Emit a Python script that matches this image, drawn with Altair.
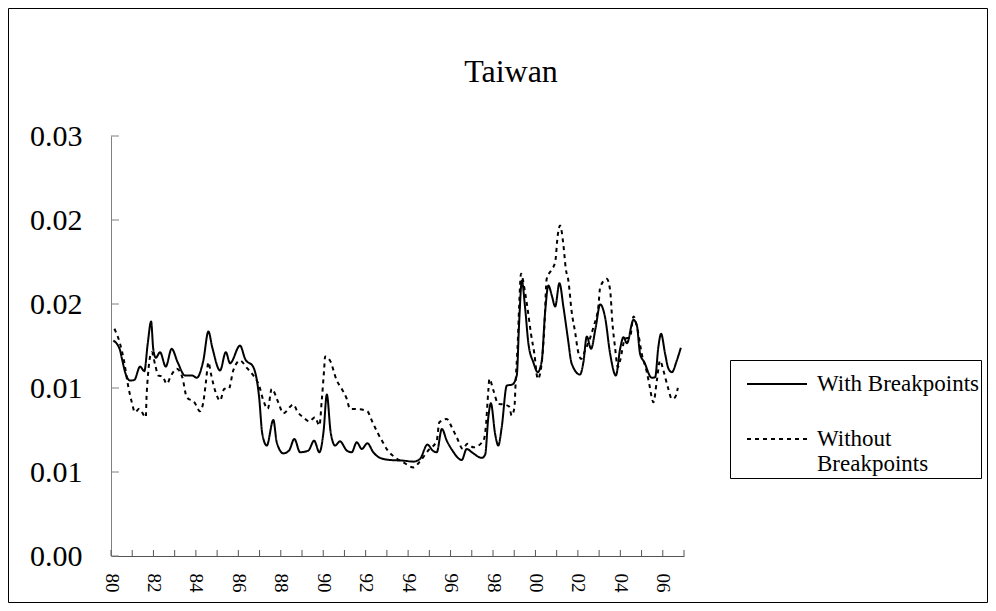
import altair as alt
import pandas as pd

# ---- data ----
series_names = ["With Breakpoints", "Without Breakpoints"]

with_years = [
    1980.11, 1980.42, 1980.50, 1980.69, 1980.90, 1981.10, 1981.37, 1981.57, 1981.73, 1981.89,
    1981.99, 1982.11, 1982.31, 1982.58, 1982.86, 1983.14, 1983.49, 1983.83, 1984.04, 1984.35,
    1984.59, 1984.77, 1985.14, 1985.41, 1985.61, 1986.08, 1986.32, 1986.71, 1986.98, 1987.13,
    1987.34, 1987.65, 1987.81, 1988.12, 1988.39, 1988.64, 1988.91, 1989.30, 1989.57, 1989.82,
    1990.02, 1990.17, 1990.35, 1990.56, 1990.79, 1991.11, 1991.34, 1991.58, 1991.82, 1992.08,
    1992.36, 1992.68, 1993.15, 1993.78, 1994.25, 1994.56, 1994.91, 1995.16, 1995.35, 1995.59,
    1995.82, 1996.06, 1996.53, 1996.76, 1997.00, 1997.47, 1997.63, 1997.78, 1997.90, 1998.10,
    1998.25, 1998.41, 1998.65, 1998.91, 1999.12, 1999.23, 1999.36, 1999.51, 1999.67, 1999.90,
    2000.11, 2000.30, 2000.45, 2000.61, 2000.77, 2000.93, 2001.13, 2001.32, 2001.52, 2001.71,
    2002.10, 2002.26, 2002.42, 2002.62, 2002.84, 2003.05, 2003.28, 2003.52, 2003.79, 2003.99,
    2004.15, 2004.31, 2004.62, 2004.78, 2004.93, 2005.13, 2005.48, 2005.64, 2005.79, 2005.92,
    2006.11, 2006.27, 2006.43, 2006.66, 2006.85,
]
with_values = [
    0.01539, 0.01473, 0.01420, 0.01301, 0.01253, 0.01258, 0.01353, 0.01320, 0.01516, 0.01675,
    0.01480, 0.01416, 0.01456, 0.01353, 0.01480, 0.01384, 0.01289, 0.01289, 0.01273, 0.01396,
    0.01604, 0.01491, 0.01325, 0.01456, 0.01377, 0.01503, 0.01408, 0.01348, 0.01134, 0.00872,
    0.00789, 0.00972, 0.00812, 0.00733, 0.00753, 0.00836, 0.00741, 0.00753, 0.00824, 0.00741,
    0.00896, 0.01153, 0.00884, 0.00789, 0.00819, 0.00753, 0.00741, 0.00812, 0.00765, 0.00805,
    0.00741, 0.00701, 0.00686, 0.00681, 0.00674, 0.00693, 0.00796, 0.00753, 0.00741, 0.00908,
    0.00824, 0.00760, 0.00686, 0.00765, 0.00741, 0.00701, 0.00724, 0.00991, 0.01091, 0.00872,
    0.00789, 0.00919, 0.01217, 0.01225, 0.01289, 0.01659, 0.01968, 0.01777, 0.01516, 0.01384,
    0.01313, 0.01396, 0.01730, 0.01932, 0.01861, 0.01782, 0.01949, 0.01777, 0.01563, 0.01373,
    0.01296, 0.01384, 0.01568, 0.01480, 0.01634, 0.01797, 0.01706, 0.01444, 0.01289, 0.01480,
    0.01563, 0.01520, 0.01687, 0.01646, 0.01444, 0.01384, 0.01273, 0.01277, 0.01491, 0.01587,
    0.01444, 0.01337, 0.01313, 0.01396, 0.01487,
]

without_years = [
    1980.16, 1980.42, 1980.61, 1980.79, 1980.98, 1981.13, 1981.33, 1981.64, 1981.68, 1981.92,
    1982.07, 1982.23, 1982.42, 1982.63, 1982.83, 1983.10, 1983.36, 1983.57, 1983.93, 1984.19,
    1984.35, 1984.48, 1984.59, 1984.71, 1984.93, 1985.14, 1985.34, 1985.55, 1985.76, 1986.08,
    1986.40, 1986.71, 1986.98, 1987.18, 1987.39, 1987.57, 1987.88, 1988.12, 1988.59, 1988.80,
    1989.06, 1989.35, 1989.61, 1989.82, 1989.93, 1990.04, 1990.09, 1990.32, 1990.64, 1990.87,
    1991.11, 1991.26, 1991.70, 1992.08, 1992.29, 1992.55, 1992.81, 1993.02, 1993.38, 1993.78,
    1994.25, 1994.56, 1994.94, 1995.35, 1995.47, 1995.82, 1996.06, 1996.29, 1996.58, 1996.79,
    1997.08, 1997.55, 1997.66, 1997.78, 1997.83, 1998.02, 1998.25, 1998.52, 1998.76, 1998.88,
    1999.01, 1999.07, 1999.17, 1999.23, 1999.32, 1999.51, 1999.64, 1999.79, 1999.95, 2000.11,
    2000.27, 2000.42, 2000.53, 2000.74, 2000.93, 2001.05, 2001.16, 2001.32, 2001.43, 2001.55,
    2001.71, 2001.87, 2002.00, 2002.15, 2002.34, 2002.73, 2002.97, 2003.05, 2003.36, 2003.52,
    2003.63, 2003.75, 2003.88, 2003.99, 2004.22, 2004.46, 2004.62, 2004.82, 2005.01, 2005.25,
    2005.36, 2005.56, 2005.72, 2005.87, 2006.03, 2006.24, 2006.43, 2006.58, 2006.71,
]
without_values = [
    0.01623, 0.01520, 0.01396, 0.01230, 0.01098, 0.01027, 0.01051, 0.00991, 0.01158, 0.01456,
    0.01373, 0.01289, 0.01284, 0.01230, 0.01289, 0.01337, 0.01277, 0.01134, 0.01098, 0.01034,
    0.01098, 0.01253, 0.01384, 0.01301, 0.01170, 0.01110, 0.01194, 0.01194, 0.01325, 0.01396,
    0.01344, 0.01289, 0.01217, 0.01110, 0.01051, 0.01194, 0.01098, 0.01019, 0.01082, 0.01027,
    0.00991, 0.00962, 0.00991, 0.00932, 0.01110, 0.01325, 0.01425, 0.01396, 0.01253, 0.01194,
    0.01122, 0.01051, 0.01048, 0.01034, 0.00967, 0.00884, 0.00812, 0.00758, 0.00705, 0.00669,
    0.00633, 0.00676, 0.00753, 0.00824, 0.00955, 0.00979, 0.00919, 0.00848, 0.00765, 0.00801,
    0.00776, 0.00824, 0.00919, 0.01182, 0.01265, 0.01182, 0.01087, 0.01082, 0.01067, 0.01003,
    0.01062, 0.01253, 0.01539, 0.01777, 0.02016, 0.01884, 0.01754, 0.01587, 0.01444, 0.01265,
    0.01348, 0.01634, 0.01980, 0.02040, 0.02099, 0.02290, 0.02361, 0.02218, 0.02052, 0.01968,
    0.01742, 0.01599, 0.01468, 0.01408, 0.01468, 0.01634, 0.01789, 0.01920, 0.01980, 0.01897,
    0.01659, 0.01491, 0.01348, 0.01396, 0.01551, 0.01563, 0.01711, 0.01611, 0.01444, 0.01313,
    0.01230, 0.01098, 0.01253, 0.01396, 0.01325, 0.01205, 0.01122, 0.01134, 0.01201,
]

y_tick_values = [0.0, 0.006, 0.012, 0.018, 0.024, 0.030]
x_tick_years = list(range(1980, 2008))
x_label_years = list(range(1980, 2007, 2))
title_text = "Taiwan"

# ---- tables ----
df = pd.concat([
    pd.DataFrame({"year": with_years, "value": with_values, "series": series_names[0]}),
    pd.DataFrame({"year": without_years, "value": without_values, "series": series_names[1]}),
], ignore_index=True)
ytick_df = pd.DataFrame({"value": y_tick_values})
xtick_df = pd.DataFrame({"year": x_tick_years})

W, H = 573, 420
FONT = "Liberation Serif"
AXIS_GREY = "#808080"

x_scale = alt.Scale(domain=[1980, 2007], nice=False, zero=False)
y_scale = alt.Scale(domain=[0, 0.03], nice=False, zero=True)

x_axis = alt.Axis(
    values=x_label_years, title=None, grid=False, ticks=False, tickSize=0,
    labelExpr="format(datum.value % 100, '02d')", labelAngle=90,
    labelFont=FONT, labelFontSize=19, labelColor="black", labelPadding=17,
    domainColor="#555555", domainWidth=1, labelOverlap=False, labelFlush=False)
y_axis = alt.Axis(
    values=y_tick_values, format=".2f", title=None, grid=False, ticks=False, tickSize=0,
    labelFont=FONT, labelFontSize=30, labelColor="black", labelPadding=29,
    domainColor=AXIS_GREY, domainWidth=1, labelOverlap=False, labelFlush=False)

X = alt.X("year:Q", scale=x_scale, axis=x_axis)
Y = alt.Y("value:Q", scale=y_scale, axis=y_axis)

lines = alt.Chart(df).mark_line(color="black", strokeWidth=2, interpolate="monotone").encode(
    x=X, y=Y,
    strokeDash=alt.StrokeDash("series:N", scale=alt.Scale(domain=series_names, range=[[1, 0], [4, 4]]),
        legend=alt.Legend(
            orient="none", legendX=619, legendY=224, title=None, direction="vertical",
            strokeColor="black", fillColor="white", padding=2,
            labelFont=FONT, labelFontSize=23, labelColor="black", labelLimit=0,
            labelOffset=9, rowPadding=11, clipHeight=44,
            labelExpr="datum.label == 'Without Breakpoints' ? ['Without', 'Breakpoints'] : datum.label",
            symbolType="stroke", symbolSize=3600, symbolStrokeWidth=2,
            symbolStrokeColor="black", symbolOffset=14)),
)

yticks = alt.Chart(ytick_df).mark_rule(color=AXIS_GREY, strokeWidth=1).encode(
    y=Y, x=alt.value(0), x2=alt.value(8))
xticks = alt.Chart(xtick_df).mark_rule(color="#555555", strokeWidth=1).encode(
    x=X, y=alt.value(H), y2=alt.value(H - 6))

frame = alt.Chart(pd.DataFrame({"f": [0]})).mark_rect(
    fill="white", fillOpacity=0, stroke="black", strokeWidth=1).encode(
    x=alt.value(-102.5), x2=alt.value(876.5), y=alt.value(-127.5), y2=alt.value(466.5))

chart = alt.layer(frame, yticks, xticks, lines).properties(
    width=W, height=H,
    background="white",
    autosize=alt.AutoSizeParams(type="none"),
    padding={"left": 103, "top": 128, "right": 304, "bottom": 47},
    title=alt.TitleParams(title_text, font=FONT, fontSize=32, fontWeight="normal", color="black",
                          anchor="middle", frame="group", dx=113.5, offset=-106, baseline="alphabetic"),
).configure_view(strokeWidth=0, stroke="transparent")

chart.save("out.html", embed_options={"renderer": "svg", "actions": False})
